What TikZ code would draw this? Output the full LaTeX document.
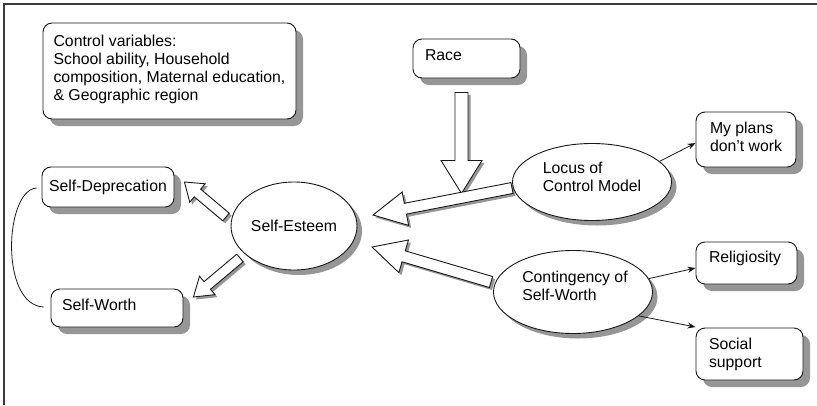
\documentclass[tikz,border=0pt]{standalone}
\usepackage{fontspec}
\setmainfont{Liberation Sans}
\usetikzlibrary{calc,shadows,shapes.geometric,arrows.meta}

\definecolor{shadowgray}{RGB}{150,150,150}
\definecolor{ink}{RGB}{25,25,25}
\definecolor{framegray}{RGB}{60,60,60}

\tikzset{
  labelfont/.style={font=\fontsize{15.8}{18}\selectfont},
  box/.style={draw=ink, fill=white, line width=0.9pt, rounded corners=9pt,
    inner sep=0pt, labelfont, align=left,
    drop shadow={shadow xshift=7pt, shadow yshift=-7pt, fill=shadowgray, opacity=1}},
  oval/.style={ellipse, draw=ink, fill=white, line width=0.9pt, inner sep=0pt,
    labelfont, align=left,
    drop shadow={shadow xshift=5pt, shadow yshift=-5pt, fill=shadowgray, opacity=1}},
  blockarrow/.style={draw=ink, fill=white, line width=0.9pt, line join=miter,
    drop shadow={shadow xshift=2.5pt, shadow yshift=-2.5pt, fill=shadowgray, opacity=1}},
  link/.style={draw=ink, line width=0.8pt, -{Stealth[length=8pt, width=6pt]}},
  bracket/.style={draw=ink, line width=0.8pt},
  frameline/.style={draw=framegray, line width=1.5pt}
}

% hollow block arrow: #1 tail, #2 tip, #3 half shaft width, #4 half head width, #5 head length
\newcommand\blockarrow[5]{%
  \path ($(#2)!#5!(#1)$) coordinate (ba-h);
  \draw[blockarrow] ($(#1)!#3!90:(#2)$) -- ($(ba-h)!#3!-90:(#1)$)
    -- ($(ba-h)!#4!-90:(#1)$) -- (#2) -- ($(ba-h)!#4!90:(#1)$)
    -- ($(ba-h)!#3!90:(#1)$) -- ($(#1)!#3!-90:(#2)$) -- cycle;}

\begin{document}
\begin{tikzpicture}[x=1pt, y=-1pt]
  \useasboundingbox (0,0) rectangle (817,405);

  % open frame
  \draw[frameline] (4,405) -- (4,4) -- (817,4);

  % boxes
  \node[box, minimum width=253pt, minimum height=96pt, text depth=6pt] (ctrl) at (169.5,71)
    {Control variables:\\School ability, Household\\composition, Maternal education,\\\& Geographic region};
  \node[box, minimum width=107pt, minimum height=39pt, text width=83pt, text depth=7pt] (race) at (466.5,58.5) {Race};
  \node[box, minimum width=100pt, minimum height=55pt, text depth=5pt] (plans) at (746,139.5) {My plans\\don’t work};
  \node[box, minimum width=101pt, minimum height=42pt, text width=75pt, text depth=13pt] (relig) at (746.5,263) {Religiosity};
  \node[box, minimum width=107pt, minimum height=52pt, text width=81pt] (social) at (749.5,354) {Social\\support};
  \node[box, minimum width=132pt, minimum height=40pt] (selfdep) at (108,187) {Self-Deprecation};
  \node[box, minimum width=132pt, minimum height=38pt, text width=110pt, text depth=6pt] (selfworth) at (117,308) {Self-Worth};

  % ellipse positions (drawn after the block arrows)
  \path (294,226) coordinate (esteem-c) (592,182) coordinate (locus-c) (573,292) coordinate (conting-c);

  % block arrows
  \coordinate (race-tail) at ($(race.south)+(-5,14)$);
  \coordinate (race-tip) at ($(race.south)+(-5,115)$);
  \blockarrow{race-tail}{race-tip}{6.5pt}{20.5pt}{33pt}

  \coordinate (locus-tail) at ($(locus-c)+(-80,6)$);
  \coordinate (locus-tip) at ($(esteem-c)+(79,-11)$);
  \blockarrow{locus-tail}{locus-tip}{5.5pt}{17pt}{33pt}

  \coordinate (conting-tail) at ($(conting-c)+(-82,-10)$);
  \coordinate (conting-tip) at ($(esteem-c)+(78,21)$);
  \blockarrow{conting-tail}{conting-tip}{5.7pt}{17pt}{33pt}

  \coordinate (dep-tail) at ($(esteem-c)+(-68,-9)$);
  \coordinate (dep-tip) at ($(selfdep.east)+(10,-5)$);
  \blockarrow{dep-tail}{dep-tip}{5pt}{12pt}{17pt}

  \coordinate (worth-tail) at ($(esteem-c)+(-54,32)$);
  \coordinate (worth-tip) at ($(selfworth.east)+(10,-11)$);
  \blockarrow{worth-tail}{worth-tip}{5pt}{12pt}{18pt}

  % ellipses
  \node[oval, minimum width=126pt, minimum height=88pt] (esteem) at (esteem-c) {Self-Esteem};
  \node[oval, minimum width=159pt, minimum height=77pt, text depth=10pt] (locus) at (locus-c) {Locus of\\Control Model};
  \node[oval, minimum width=159pt, minimum height=83pt, text depth=12pt] (conting) at (conting-c) {\hspace*{4pt}Contingency of\\\hspace*{4pt}Self-Worth};

  % indicator arrows
  \draw[link] (locus.17) -- ($(plans.west)+(0,3.5)$);
  \draw[link] (conting.10) -- ($(relig.west)+(0,5)$);
  \draw[link] (conting.-20) -- ($(social.west)+(0,-27)$);

  % bracket joining the two outcomes
  \coordinate (cv-a) at ($(selfdep.west)+(-5,1)$);
  \coordinate (cv-b) at ($(selfworth.west)+(-7,-1)$);
  \draw[bracket] (cv-a) .. controls +(-32,2) and +(-44,-2) .. (cv-b);
\end{tikzpicture}
\end{document}
